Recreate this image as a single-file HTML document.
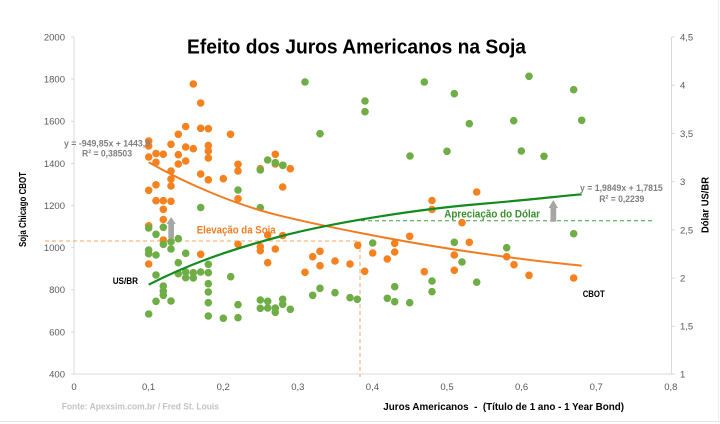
<!DOCTYPE html>
<html><head><meta charset="utf-8"><style>
html,body{margin:0;padding:0;background:#fff;}
svg{display:block;}
text{font-family:"Liberation Sans",Arial,sans-serif;}
</style></head><body>
<svg width="720" height="424" viewBox="0 0 720 424" xmlns="http://www.w3.org/2000/svg">
<rect width="720" height="424" fill="#fff"/>
<line x1="0" y1="421.5" x2="720" y2="421.5" stroke="#e4e4e4" stroke-width="1"/>
<line x1="718.5" y1="0" x2="718.5" y2="422" stroke="#eeeeee" stroke-width="1"/>
<!-- axes -->
<g stroke="#d9d9d9" stroke-width="1" fill="none">
<line x1="74" y1="37" x2="74" y2="374"/>
<line x1="74" y1="374" x2="671.5" y2="374"/>
<line x1="671.5" y1="37" x2="671.5" y2="374"/>
<line x1="71" y1="37" x2="74" y2="37"/><line x1="71" y1="79.1" x2="74" y2="79.1"/><line x1="71" y1="121.3" x2="74" y2="121.3"/><line x1="71" y1="163.4" x2="74" y2="163.4"/><line x1="71" y1="205.5" x2="74" y2="205.5"/><line x1="71" y1="247.6" x2="74" y2="247.6"/><line x1="71" y1="289.8" x2="74" y2="289.8"/><line x1="71" y1="331.9" x2="74" y2="331.9"/><line x1="71" y1="374" x2="74" y2="374"/>
<line x1="671.5" y1="37" x2="675" y2="37"/><line x1="671.5" y1="85.2" x2="675" y2="85.2"/><line x1="671.5" y1="133.4" x2="675" y2="133.4"/><line x1="671.5" y1="181.7" x2="675" y2="181.7"/><line x1="671.5" y1="229.9" x2="675" y2="229.9"/><line x1="671.5" y1="278.1" x2="675" y2="278.1"/><line x1="671.5" y1="326.3" x2="675" y2="326.3"/><line x1="671.5" y1="374" x2="675" y2="374"/>
</g>
<!-- left tick labels -->
<g font-size="9.5" fill="#595959" text-anchor="end">
<text x="65" y="40.5">2000</text><text x="65" y="82.5">1800</text><text x="65" y="124.7">1600</text><text x="65" y="166.8">1400</text><text x="65" y="208.9">1200</text><text x="65" y="251">1000</text><text x="65" y="293.2">800</text><text x="65" y="335.3">600</text><text x="65" y="377.4">400</text>
</g>
<g font-size="9.5" fill="#595959" text-anchor="start">
<text x="680" y="40.5">4,5</text><text x="680" y="88.6">4</text><text x="680" y="136.8">3,5</text><text x="680" y="185.1">3</text><text x="680" y="233.3">2,5</text><text x="680" y="281.5">2</text><text x="680" y="329.7">1,5</text><text x="680" y="377.4">1</text>
</g>
<g font-size="9.5" fill="#595959" text-anchor="middle">
<text x="74" y="390">0</text><text x="148.6" y="390">0,1</text><text x="223.2" y="390">0,2</text><text x="297.8" y="390">0,3</text><text x="372.4" y="390">0,4</text><text x="447" y="390">0,5</text><text x="521.6" y="390">0,6</text><text x="596.2" y="390">0,7</text><text x="670.8" y="390">0,8</text>
</g>
<!-- title -->
<text x="187" y="53.5" font-size="20" font-weight="bold" fill="#000" textLength="339" lengthAdjust="spacingAndGlyphs">Efeito dos Juros Americanos na Soja</text>
<!-- axis titles -->
<text transform="translate(26,209.5) rotate(-90)" text-anchor="middle" font-size="10" font-weight="bold" fill="#000" textLength="75" lengthAdjust="spacingAndGlyphs">Soja Chicago CBOT</text>
<text transform="translate(708.5,205) rotate(-90)" text-anchor="middle" font-size="10" font-weight="bold" fill="#000" textLength="56" lengthAdjust="spacingAndGlyphs">Dólar US/BR</text>
<text x="383.3" y="410" font-size="10.5" font-weight="bold" fill="#000" textLength="240.7" lengthAdjust="spacingAndGlyphs" xml:space="preserve">Juros Americanos  -  (Título de 1 ano - 1 Year Bond)</text>
<text x="61.7" y="409.5" font-size="9.5" font-weight="bold" fill="#c3c3c3" textLength="157.3" lengthAdjust="spacingAndGlyphs">Fonte: Apexsim.com.br / Fred St. Louis</text>
<!-- dashed lines -->
<line x1="45" y1="241" x2="360" y2="241" stroke="#f5a463" stroke-width="1" stroke-dasharray="4,3"/>
<line x1="360" y1="241" x2="360" y2="377" stroke="#f5a463" stroke-width="1" stroke-dasharray="4,3"/>
<line x1="361" y1="220.8" x2="654" y2="220.8" stroke="#3f9f3f" stroke-width="1" stroke-dasharray="4,3"/>
<!-- orange points -->
<g fill="#f5821f">
<circle cx="193.3" cy="84" r="3.8"/><circle cx="200.7" cy="103" r="3.8"/><circle cx="185.7" cy="126.5" r="3.8"/><circle cx="178.3" cy="134.3" r="3.8"/><circle cx="200.7" cy="128.3" r="3.8"/><circle cx="208.3" cy="128.7" r="3.8"/><circle cx="230.5" cy="134.3" r="3.8"/><circle cx="148.7" cy="141" r="3.8"/><circle cx="148.7" cy="146" r="3.8"/><circle cx="171" cy="144.3" r="3.8"/><circle cx="156" cy="153.5" r="3.8"/><circle cx="163.3" cy="154.2" r="3.8"/><circle cx="148.7" cy="157" r="3.8"/><circle cx="156" cy="162.3" r="3.8"/><circle cx="178.3" cy="154.7" r="3.8"/><circle cx="178.3" cy="164" r="3.8"/><circle cx="185.7" cy="161" r="3.8"/><circle cx="185.7" cy="147" r="3.8"/><circle cx="193.3" cy="148.7" r="3.8"/><circle cx="208.3" cy="145.5" r="3.8"/><circle cx="208.3" cy="151" r="3.8"/><circle cx="208.3" cy="158" r="3.8"/><circle cx="238" cy="164.3" r="3.8"/><circle cx="238" cy="171" r="3.8"/><circle cx="171" cy="171" r="3.8"/><circle cx="171" cy="179" r="3.8"/><circle cx="200.7" cy="174" r="3.8"/><circle cx="208.3" cy="179.8" r="3.8"/><circle cx="223.3" cy="178.7" r="3.8"/><circle cx="171" cy="186" r="3.8"/><circle cx="156" cy="184.8" r="3.8"/><circle cx="148.7" cy="190.3" r="3.8"/><circle cx="156" cy="200.7" r="3.8"/><circle cx="163.3" cy="200.7" r="3.8"/><circle cx="171" cy="201.3" r="3.8"/><circle cx="163.3" cy="209.3" r="3.8"/><circle cx="163.3" cy="219.5" r="3.8"/><circle cx="238" cy="198.8" r="3.8"/><circle cx="275.3" cy="154.3" r="3.8"/><circle cx="275.3" cy="164" r="3.8"/><circle cx="260.3" cy="168.7" r="3.8"/><circle cx="290.3" cy="168.7" r="3.8"/><circle cx="282.7" cy="187" r="3.8"/><circle cx="148.7" cy="225.8" r="3.8"/><circle cx="163.3" cy="240" r="3.8"/><circle cx="148.7" cy="264" r="3.8"/><circle cx="200.7" cy="254.3" r="3.8"/><circle cx="238" cy="244.3" r="3.8"/><circle cx="260.3" cy="246.7" r="3.8"/><circle cx="260.3" cy="250.7" r="3.8"/><circle cx="267.7" cy="235" r="3.8"/><circle cx="267.7" cy="262.7" r="3.8"/><circle cx="275.3" cy="249" r="3.8"/><circle cx="282.7" cy="235.5" r="3.8"/><circle cx="432" cy="200.5" r="3.8"/><circle cx="432" cy="209.5" r="3.8"/><circle cx="476.7" cy="192" r="3.8"/><circle cx="462" cy="222.7" r="3.8"/><circle cx="409.7" cy="236.3" r="3.8"/><circle cx="394.7" cy="243.3" r="3.8"/><circle cx="394.7" cy="252" r="3.8"/><circle cx="372.7" cy="253" r="3.8"/><circle cx="357.7" cy="245.3" r="3.8"/><circle cx="387.3" cy="259" r="3.8"/><circle cx="320" cy="251.3" r="3.8"/><circle cx="312.7" cy="256.7" r="3.8"/><circle cx="320" cy="265.7" r="3.8"/><circle cx="335" cy="261" r="3.8"/><circle cx="350" cy="264" r="3.8"/><circle cx="305" cy="272.3" r="3.8"/><circle cx="364.7" cy="271.3" r="3.8"/><circle cx="424.3" cy="271.7" r="3.8"/><circle cx="454.3" cy="255" r="3.8"/><circle cx="454.3" cy="270.3" r="3.8"/><circle cx="469.3" cy="242.3" r="3.8"/><circle cx="506.7" cy="256.7" r="3.8"/><circle cx="514" cy="264.7" r="3.8"/><circle cx="529" cy="275.3" r="3.8"/><circle cx="573.7" cy="278" r="3.8"/>
</g>
<!-- green points -->
<g fill="#6fad47">
<circle cx="305" cy="82" r="3.8"/><circle cx="365" cy="101" r="3.8"/><circle cx="365" cy="111.7" r="3.8"/><circle cx="320" cy="133.7" r="3.8"/><circle cx="424.3" cy="82" r="3.8"/><circle cx="454.3" cy="93.7" r="3.8"/><circle cx="469.3" cy="123.7" r="3.8"/><circle cx="410" cy="156" r="3.8"/><circle cx="447" cy="151.3" r="3.8"/><circle cx="283" cy="165.3" r="3.8"/><circle cx="529" cy="76.3" r="3.8"/><circle cx="573.7" cy="89.7" r="3.8"/><circle cx="513.7" cy="120.7" r="3.8"/><circle cx="581.7" cy="120.3" r="3.8"/><circle cx="521.3" cy="151" r="3.8"/><circle cx="544" cy="156.3" r="3.8"/><circle cx="573.7" cy="233.7" r="3.8"/><circle cx="506.7" cy="247.7" r="3.8"/><circle cx="476.7" cy="282.2" r="3.8"/><circle cx="267.7" cy="160" r="3.8"/><circle cx="275.3" cy="162.7" r="3.8"/><circle cx="282.7" cy="165.3" r="3.8"/><circle cx="260.3" cy="170" r="3.8"/><circle cx="238" cy="190" r="3.8"/><circle cx="200.7" cy="207.5" r="3.8"/><circle cx="260.3" cy="207.7" r="3.8"/><circle cx="148.7" cy="228" r="3.8"/><circle cx="163.3" cy="227.3" r="3.8"/><circle cx="156" cy="234.3" r="3.8"/><circle cx="163.3" cy="244.3" r="3.8"/><circle cx="171" cy="241.7" r="3.8"/><circle cx="171" cy="249" r="3.8"/><circle cx="178.3" cy="238.7" r="3.8"/><circle cx="148.7" cy="250" r="3.8"/><circle cx="148.7" cy="253.7" r="3.8"/><circle cx="156" cy="255" r="3.8"/><circle cx="185.7" cy="253.3" r="3.8"/><circle cx="178.3" cy="262.7" r="3.8"/><circle cx="156" cy="275" r="3.8"/><circle cx="178.3" cy="273.7" r="3.8"/><circle cx="185.7" cy="272" r="3.8"/><circle cx="185.7" cy="277.7" r="3.8"/><circle cx="193.3" cy="272.7" r="3.8"/><circle cx="193.3" cy="278" r="3.8"/><circle cx="200.7" cy="272" r="3.8"/><circle cx="208.3" cy="264.3" r="3.8"/><circle cx="208.3" cy="272.7" r="3.8"/><circle cx="208.3" cy="283.7" r="3.8"/><circle cx="208.3" cy="292" r="3.8"/><circle cx="208.3" cy="302.7" r="3.8"/><circle cx="208.3" cy="316" r="3.8"/><circle cx="230.7" cy="276.7" r="3.8"/><circle cx="163.3" cy="286" r="3.8"/><circle cx="163.3" cy="291" r="3.8"/><circle cx="163.3" cy="295.3" r="3.8"/><circle cx="156" cy="301.3" r="3.8"/><circle cx="171" cy="301" r="3.8"/><circle cx="148.7" cy="314" r="3.8"/><circle cx="238" cy="304.7" r="3.8"/><circle cx="238" cy="317.7" r="3.8"/><circle cx="223.3" cy="318.3" r="3.8"/><circle cx="260.3" cy="300" r="3.8"/><circle cx="267.7" cy="301.3" r="3.8"/><circle cx="282.7" cy="299.3" r="3.8"/><circle cx="260.3" cy="308.3" r="3.8"/><circle cx="267.7" cy="308" r="3.8"/><circle cx="275.3" cy="308" r="3.8"/><circle cx="275.3" cy="312.3" r="3.8"/><circle cx="282.7" cy="304.3" r="3.8"/><circle cx="290.3" cy="309.3" r="3.8"/><circle cx="372.7" cy="243" r="3.8"/><circle cx="454.3" cy="242.3" r="3.8"/><circle cx="462" cy="262" r="3.8"/><circle cx="432" cy="281" r="3.8"/><circle cx="432" cy="291.7" r="3.8"/><circle cx="394.7" cy="286.7" r="3.8"/><circle cx="312.7" cy="295.3" r="3.8"/><circle cx="320" cy="288.3" r="3.8"/><circle cx="335" cy="292.7" r="3.8"/><circle cx="350" cy="297.7" r="3.8"/><circle cx="357.3" cy="299.3" r="3.8"/><circle cx="387.3" cy="298.3" r="3.8"/><circle cx="394.7" cy="301.7" r="3.8"/><circle cx="409.7" cy="302.7" r="3.8"/>
</g>
<!-- trend lines -->
<path d="M148.7,162.3 C190,186 240,206 280,215.7 S400,242 480,253.3 S560,263 581.7,265.7" fill="none" stroke="#f07d22" stroke-width="2"/>
<path d="M148.7,284.7 C185,266 225,251 280,236.5 S420,209 480,204 S560,196 581.7,194.3" fill="none" stroke="#138a1e" stroke-width="2.2"/>
<!-- arrows -->
<g fill="#a6a6a6">
<rect x="168.3" y="223" width="5.7" height="15.3"/>
<polygon points="166.5,224 175.8,224 171.1,217"/>
<rect x="550.5" y="206" width="5.7" height="15.7"/>
<polygon points="548.6,208 558,208 553.3,200"/>
</g>
<!-- annotations -->
<text x="64" y="146.3" font-size="9.5" font-weight="bold" fill="#7f7f7f" textLength="86" lengthAdjust="spacingAndGlyphs">y = -949,85x + 1443,9</text>
<text x="82" y="156.6" font-size="9.5" font-weight="bold" fill="#7f7f7f" textLength="50" lengthAdjust="spacingAndGlyphs">R² = 0,38503</text>
<text x="580" y="191.2" font-size="9.5" font-weight="bold" fill="#7f7f7f" textLength="82.7" lengthAdjust="spacingAndGlyphs">y = 1,9849x + 1,7815</text>
<text x="599.3" y="201.8" font-size="9.5" font-weight="bold" fill="#7f7f7f" textLength="45" lengthAdjust="spacingAndGlyphs">R² = 0,2239</text>
<text x="112.7" y="284" font-size="9.5" font-weight="bold" fill="#000" textLength="25.3" lengthAdjust="spacingAndGlyphs">US/BR</text>
<text x="582.7" y="297" font-size="9.5" font-weight="bold" fill="#000" textLength="22" lengthAdjust="spacingAndGlyphs">CBOT</text>
<text x="196.7" y="233.4" font-size="11" font-weight="bold" fill="#f07d22" textLength="79" lengthAdjust="spacingAndGlyphs">Elevação da Soja</text>
<text x="444.3" y="217.4" font-size="11" font-weight="bold" fill="#3a8f2a" textLength="95.7" lengthAdjust="spacingAndGlyphs">Apreciação do Dólar</text>
</svg>
</body></html>
